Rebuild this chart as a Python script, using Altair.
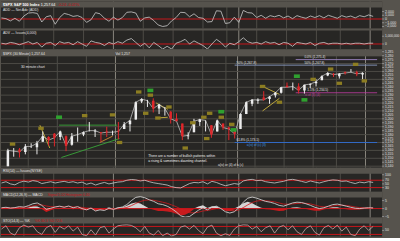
import json
import altair as alt
import pandas as pd
import numpy as np

# ---------------- price data: daily bars, trading-day index 0 = 1 Oct 2010 ----------------
opens = [1143,1144,1140,1159,1161,1158,1165,1164,1171,1177,
         1181,1177,1178,1167,1180,1180,1185,1184,1183,1184,
         1183,1185,1187,1193,1199,1222,1223,1223,1213,1213,
         1209,1200,1194,1178,1183,1196,1198,1192,1184,1194,
         1189,1183,1187,1206,1219,1223,1227,1225,1230,1233,
         1242,1241,1241,1236,1243,1245,1249,1255,1257,1254,
         1259,1259,1259,1256]
highs = [1150,1148,1162,1163,1163,1168,1169,1172,1184,1178,
         1182,1185,1179,1182,1189,1184,1196,1187,1183,1190,
         1185,1196,1196,1198,1222,1226,1224,1226,1219,1215,
         1210,1207,1194,1183,1200,1200,1198,1192,1199,1194,
         1190,1188,1207,1222,1225,1226,1235,1229,1234,1240,
         1246,1246,1245,1243,1245,1250,1255,1259,1258,1258,
         1260,1263,1261,1259]
lows = [1139,1131,1140,1152,1151,1155,1163,1155,1171,1166,
        1165,1173,1159,1166,1171,1178,1184,1177,1171,1177,
        1179,1174,1187,1184,1199,1220,1215,1208,1206,1204,
        1194,1197,1173,1174,1183,1191,1184,1176,1184,1186,
        1173,1175,1187,1206,1216,1219,1223,1219,1227,1232,
        1240,1236,1232,1232,1239,1241,1249,1254,1253,1251,
        1256,1259,1254,1250]
closes = [1146,1137,1160,1159,1158,1165,1165,1169,1178,1173,
          1176,1184,1166,1178,1180,1183,1185,1185,1182,1183,
          1183,1184,1193,1198,1221,1225,1223,1213,1218,1213,
          1200,1197,1178,1179,1197,1199,1198,1180,1198,1189,
          1187,1181,1206,1221,1224,1224,1224,1228,1233,1240,
          1240,1241,1236,1243,1244,1247,1254,1258,1256,1257,
          1258,1259,1257,1258]

# ---------------- indicators: sampled every 0.75 trading day starting at 2.25 ----------------
add_vals = [0.3,0.1,-0.5,0.2,-0.6,0.8,1.6,1.7,1.5,-0.8,
            0.6,0.9,-1.4,0.4,1.5,1.2,0.7,0.9,0.4,-0.9,
            -0.2,1.7,1.4,0.2,-0.6,0.5,-0.3,0.4,1.8,1.9,
            1.6,-0.6,0.3,0.5,-0.4,-1.6,-2.0,-1.8,-0.5,0.4,
            1.8,1.7,0.6,1.4,0.4,0.2,-0.8,-0.7,2.2,2.1,
            -1.2,-1.0,0.5,-0.9,2.3,1.7,1.6,0.4,1.0,0.2,
            0.9,0.6,1.0,0.3,0.8,0.1,0.9,0.5,0.2,0.8,
            0.4,0.9,0.3,1.0,0.6,0.2,0.9,0.5,0.8,0.3,
            0.9,0.6,1.1,0.7]
adv_vals = [0.1,0.0,0.2,0.1,-0.1,0.1,0.3,0.0,0.2,-0.4,
            0.1,0.2,-0.2,0.3,0.1,0.2,-0.1,0.3,0.0,-0.3,
            0.4,0.2,0.1,-0.2,0.2,0.0,0.3,0.1,0.5,0.7,
            0.2,-0.3,0.1,-0.5,0.2,-0.2,-0.65,-0.3,-0.65,0.1,
            0.3,0.6,0.0,0.4,0.1,-0.2,-0.65,0.0,0.6,0.2,
            -0.4,0.1,-0.1,0.3,0.8,0.3,0.1,0.2,0.0,0.3,
            0.1,0.2,-0.1,0.2,0.1,-0.3,0.2,0.1,0.0,0.2,
            -0.2,0.1,0.2,0.0,0.1,0.1,0.0,0.1,0.0,0.1,
            0.1,0.0,0.1,0.1]
rsi_vals = [55,62,50,45,58,65,60,68,64,52,
            57,62,55,60,64,58,62,55,60,48,
            55,44,52,58,50,55,60,62,70,74,
            72,66,70,62,56,52,48,44,35,30,
            28,40,52,58,56,62,50,64,58,48,
            40,46,52,48,66,72,75,68,70,62,
            58,55,60,64,72,75,70,64,58,66,
            60,55,62,68,72,70,64,66,58,52,
            60,56,62,58]
macd_vals = [0.5,0.8,0.3,0.6,1.2,0.9,1.8,3.0,3.5,2.0,
             -0.5,0.2,1.0,1.5,0.8,1.6,0.5,1.2,0.0,-0.8,
             0.3,-1.5,-0.8,-1.2,0.2,-0.5,0.4,1.0,2.5,5.0,
             7.0,7.5,6.8,5.5,4.5,3.0,2.5,1.5,0.0,-2.0,
             -4.5,-5.4,-5.0,-3.0,-1.0,0.5,-0.8,0.8,1.5,0.0,
             -2.0,-2.8,-2.0,0.5,4.0,6.5,7.2,6.5,5.5,4.5,
             4.0,3.2,2.0,1.5,2.5,3.5,4.0,3.8,3.0,2.0,
             0.8,0.0,0.5,1.5,2.5,2.8,2.2,1.5,0.8,0.2,
             0.0,0.3,0.5,0.4]
signal_vals = [0.4,0.5,0.5,0.5,0.7,0.8,1.1,1.6,2.2,2.3,
               1.6,1.2,1.1,1.2,1.1,1.2,1.0,1.0,0.7,0.3,
               0.3,-0.2,-0.4,-0.6,-0.4,-0.4,-0.2,0.1,0.7,1.8,
               3.2,4.4,5.2,5.4,5.2,4.6,4.0,3.3,2.3,1.2,
               -0.2,-1.6,-2.6,-2.7,-2.3,-1.5,-1.2,-0.6,0.0,0.0,
               -0.6,-1.2,-1.4,-0.9,0.6,2.3,3.8,4.7,5.0,4.9,
               4.6,4.2,3.5,2.8,2.7,2.9,3.2,3.4,3.3,2.9,
               2.2,1.4,1.1,1.2,1.6,2.0,2.1,1.9,1.5,1.0,
               0.6,0.5,0.5,0.5]
stoch_vals = [60,85,30,15,70,90,75,85,40,20,
              70,88,35,80,60,85,45,75,20,10,
              55,15,70,80,30,60,85,90,92,88,
              70,40,80,30,15,50,10,30,8,20,
              75,85,60,88,50,25,75,90,30,10,
              25,12,60,85,92,90,60,80,40,70,
              85,30,75,88,55,85,40,20,65,85,
              35,15,70,88,60,90,45,75,20,10,
              60,85,50,80]

# ---------------- calendar ticks ----------------
week_pos = [6, 11, 16, 21, 26, 31, 36, 40, 42, 45, 50, 55, 59, 64]
week_lab = ["11", "18", "25", "Nov", "8", "15", "22", "29", "Dec", "6", "13", "20", "27", "Jan"]
month_pos = [21, 42, 64]

# ---------------- right-hand scale labels ----------------
add_ticks = [2, 1, 0, -1, -2]
adv_ticks = [1, 0]
price_ticks = list(range(1140, 1290, 5))
rsi_ticks = [100, 70, 50, 30]
macd_ticks = [5, 0, -5]
sto_ticks = [50]

# ---------------- annotations (trading-day index, price) ----------------
olive_x = [3.3, 8.2, 15.7, 20.5, 21.7, 25.0, 26.2, 27.0, 28.3, 30.2, 33.0, 34.3, 36.2,
           36.7, 37.2, 39.2, 41.0, 46.3, 49.2, 55.0, 58.0, 59.5, 62.3, 63.8]
olive_y = [1168, 1188, 1204, 1205, 1170, 1234, 1207, 1230, 1201, 1215, 1163, 1195, 1202,
           1175, 1207, 1202, 1193, 1241, 1221, 1250, 1263, 1245, 1269, 1248]
green_x = [11.3, 27.0, 39.2, 41.3, 52.2, 53.5]
green_y = [1202, 1236, 1209, 1186, 1254, 1224]

seg_x1 = [11.3, 11.7, 8.0, 28.0, 28.0, 46.3, 46.3, 18.3, 41.5, 41.5, 52.0, 52.0]
seg_x2 = [21.3, 21.7, 9.7, 30.0, 30.0, 49.2, 49.2, 20.5, 66.0, 66.0, 66.0, 66.0]
seg_y1 = [1192, 1151, 1192, 1220, 1201, 1241, 1210, 1170, 1170, 1268, 1275, 1233]
seg_y2 = [1192, 1175, 1163, 1212, 1202, 1231, 1226, 1178, 1170, 1268, 1275, 1233]
seg_col = ["#39a639", "#39a639", "#c9b23c", "#c9b23c", "#c9b23c", "#c9b23c", "#c9b23c",
           "#d08a34", "#2f6fd6", "#8a9cc4", "#9b84c4", "#b23a97"]

note_x = [53.5, 41.8, 53.5, 41.8, 43.6, 54.0, 53.6]
note_y = [1278.5, 1271, 1271, 1173, 1166.5, 1236, 1230]
note_t = ["0.0% (1,275.4)", "50% (1,267.8)", "50% (1,267.8)", "61.8% (1,173.1)",
          "a(iv) of (c) (3)", "1.1% (1,234.5)", "iii of (3) (4)"]
note_c = ["#e0e0e0", "#e0e0e0", "#e0e0e0", "#e0e0e0", "#3f9be3", "#e0e0e0", "#c0409f"]

# ---------------- styling ----------------
W = 383
FONT = "Liberation Sans"
BG = "#56534d"
PANEL = "#272624"
VGRID = "#4e4c47"
MGRID = "#8a877f"
HGRID = "#4d4b46"
LINE = "#cdcdcd"
RED = "#c8161b"
TXT = "#e2e2e2"
UP = "#ececec"
DOWN = "#e0262a"

xs = alt.Scale(domain=[2.17, 66.0], nice=False, zero=False)
one = pd.DataFrame({"k": [0]})


def xenc(f, axis=None):
    return alt.X(f + ":Q", scale=xs, axis=axis, title=None)


def vgrid():
    wk = [p for p in week_pos if p not in month_pos]
    a = alt.Chart(pd.DataFrame({"x": wk})).mark_rule(color=VGRID, strokeWidth=1).encode(x=xenc("x"))
    b = alt.Chart(pd.DataFrame({"x": month_pos})).mark_rule(color=MGRID, strokeWidth=1).encode(x=xenc("x"))
    return [a, b]


def band(h):
    return alt.Chart(one).mark_rect(color=BG).encode(
        x=alt.value(0), x2=alt.value(W), y=alt.value(0), y2=alt.value(h))


def label(text, x, y, color=TXT, size=4, weight="normal"):
    return alt.Chart(pd.DataFrame({"t": [text]})).mark_text(
        align="left", baseline="top", font=FONT, fontSize=size, color=color, fontWeight=weight
    ).encode(x=alt.value(x), y=alt.value(y), text="t:N")


def hrules(vals, color, ys, width=1):
    return alt.Chart(pd.DataFrame({"y": vals})).mark_rule(color=color, strokeWidth=width).encode(
        y=alt.Y("y:Q", scale=ys, axis=None))


def scale_labels(vals, ys, expr, size=3.8):
    """Right-hand price / indicator scale: tick + label drawn outside the plot."""
    d = pd.DataFrame({"v": vals})
    ticks = alt.Chart(d).mark_rule(color="#9a9a9a", strokeWidth=0.8).encode(
        y=alt.Y("v:Q", scale=ys, axis=None), x=alt.value(W), x2=alt.value(W + 2))
    labs = alt.Chart(d).transform_calculate(lab=expr).mark_text(
        align="left", baseline="middle", font=FONT, fontSize=size, color=TXT
    ).encode(y=alt.Y("v:Q", scale=ys, axis=None), x=alt.value(W + 3), text="lab:N")
    return [ticks, labs]


n = len(add_vals)
ind = pd.DataFrame({
    "x": 2.25 + 0.75 * np.arange(n),
    "add": add_vals, "adv": adv_vals, "rsi": rsi_vals,
    "macd": macd_vals, "sig": signal_vals, "sto": stoch_vals,
})
ind["hp"] = np.maximum(ind["macd"] - ind["sig"], 0)
ind["hn"] = np.minimum(ind["macd"] - ind["sig"], 0)

# ---------------- panel 1: ADD ----------------
ys1 = alt.Scale(domain=[-2.53, 4.67], nice=False, zero=False)
p1 = alt.layer(
    *vgrid(),
    band(6),
    hrules([0], RED, ys1),
    alt.Chart(ind).mark_line(color=LINE, strokeWidth=0.8, clip=True).encode(
        x=xenc("x"), y=alt.Y("add:Q", scale=ys1, axis=None)),
    *scale_labels(add_ticks, ys1, "format(datum.v*1000, ',')", 3.6),
    label("$SPX S&P 500 Index", 2, 1, color="#ffffff", size=3.8, weight="bold"),
    label("1,257.64", 40, 1, color="#ffffff", size=3.8),
    label("-0.24  -0.02%", 57, 1, color=RED, size=3.8),
    label("ADD — Net Adv (ADD)", 2, 6.5, size=3.5),
).properties(width=W, height=27)

# ---------------- panel 2: ADV ----------------
ys2 = alt.Scale(domain=[-0.69, 2.0], nice=False, zero=False)
p2 = alt.layer(
    *vgrid(),
    band(2),
    hrules([0], RED, ys2),
    alt.Chart(ind).mark_line(color=LINE, strokeWidth=0.8, clip=True).encode(
        x=xenc("x"), y=alt.Y("adv:Q", scale=ys2, axis=None)),
    *scale_labels(adv_ticks, ys2, "format(datum.v*1000000, ',')", 3.2),
    label("ADV — Issues(4,000)", 2, 2.5, size=3.5),
).properties(width=W, height=21)

# ---------------- main price panel ----------------
ysm = alt.Scale(domain=[1138, 1288], nice=False, zero=False)
px = pd.DataFrame({"x": np.arange(len(closes)) + 0.5, "o": opens, "h": highs, "l": lows, "c": closes})
px["col"] = np.where(px["c"] >= px["o"], UP, DOWN)
px = px[px["x"] > 2.17]
segs = pd.DataFrame({"x1": seg_x1, "x2": seg_x2, "y1": seg_y1, "y2": seg_y2, "col": seg_col})
olive = pd.DataFrame({"x": olive_x, "y": olive_y})
green = pd.DataFrame({"x": green_x, "y": green_y})
notes = pd.DataFrame({"x": note_x, "y": note_y, "t": note_t, "col": note_c})
box = "M-1,-0.6L1,-0.6L1,0.6L-1,0.6Z"

main = alt.layer(
    *vgrid(),
    hrules(list(range(1140, 1290, 10)), HGRID, ysm),
    band(7),
    alt.Chart(segs).mark_rule(strokeWidth=0.9, clip=True).encode(
        x=xenc("x1"), x2="x2", y=alt.Y("y1:Q", scale=ysm, axis=None), y2="y2",
        color=alt.Color("col:N", scale=None)),
    alt.Chart(px).mark_line(color="#bdbdbd", strokeWidth=0.8, clip=True).encode(
        x=xenc("x"), y=alt.Y("c:Q", scale=ysm, axis=None)),
    alt.Chart(px).mark_rule(strokeWidth=1, clip=True).encode(
        x=xenc("x"), y=alt.Y("l:Q", scale=ysm, axis=None),
        y2="h", color=alt.Color("col:N", scale=None)),
    alt.Chart(px).mark_bar(size=2.5, clip=True).encode(
        x=xenc("x"), y=alt.Y("o:Q", scale=ysm, axis=None), y2="c",
        color=alt.Color("col:N", scale=None)),
    alt.Chart(olive).mark_point(shape=box, filled=True, size=30, color="#8c7d22", opacity=1).encode(
        x=xenc("x"), y=alt.Y("y:Q", scale=ysm, axis=None)),
    alt.Chart(green).mark_point(shape=box, filled=True, size=36, color="#2fa02f", opacity=1).encode(
        x=xenc("x"), y=alt.Y("y:Q", scale=ysm, axis=None)),
    alt.Chart(notes).mark_text(align="left", baseline="middle", font=FONT, fontSize=3.2).encode(
        x=xenc("x"), y=alt.Y("y:Q", scale=ysm, axis=None), text="t:N",
        color=alt.Color("col:N", scale=None)),
    *scale_labels(price_ticks, ysm, "format(datum.v, ',')", 3.3),
    label("$SPX (30 Minute) 1,257.64", 2, 3, size=3.5),
    label("Vol 1,257", 115, 3, size=3.5),
    label("30 minute chart", 20, 16, size=3.5),
    label("There are a number of bullish patterns within", 148, 105, color="#f0f0f0", size=3.4),
    label("a rising & sometimes daunting channel.", 148, 110.5, color="#f0f0f0", size=3.4),
    label("a(iv) or (4) of a (c)", 218, 114, color="#e0e0e0", size=3.2),
).properties(width=W, height=119)

# ---------------- RSI ----------------
ysr = alt.Scale(domain=[8, 138], nice=False, zero=False)
rsi = alt.layer(
    *vgrid(),
    band(6),
    hrules([70, 30], RED, ysr),
    alt.Chart(ind).mark_line(color=LINE, strokeWidth=0.8, clip=True).encode(
        x=xenc("x"), y=alt.Y("rsi:Q", scale=ysr, axis=None)),
    *scale_labels(rsi_ticks, ysr, "format(datum.v, 'd')", 3.5),
    label("RSI(14) — Issues(NYSE)", 2, 1.5, size=3.5),
).properties(width=W, height=24)

# ---------------- MACD ----------------
ysd = alt.Scale(domain=[-5.6, 10.6], nice=False, zero=False)
macd = alt.layer(
    *vgrid(),
    band(6),
    alt.Chart(ind).mark_area(color="#e8e8e8", opacity=0.9, clip=True).encode(
        x=xenc("x"), y=alt.Y("hp:Q", scale=ysd, axis=None), y2=alt.Y2(datum=0)),
    alt.Chart(ind).mark_area(color="#d01a1e", opacity=0.95, clip=True).encode(
        x=xenc("x"), y=alt.Y("hn:Q", scale=ysd, axis=None), y2=alt.Y2(datum=0)),
    hrules([0], RED, ysd),
    alt.Chart(ind).mark_line(color="#d01a1e", strokeWidth=0.8, clip=True).encode(
        x=xenc("x"), y=alt.Y("sig:Q", scale=ysd, axis=None)),
    alt.Chart(ind).mark_line(color=LINE, strokeWidth=0.9, clip=True).encode(
        x=xenc("x"), y=alt.Y("macd:Q", scale=ysd, axis=None)),
    *scale_labels(macd_ticks, ysd, "format(datum.v, 'd')", 3.5),
    label("MACD(12,26,9) — MACD", 2, 1.5, size=3.5),
    label("Signal 5.02  Histogram 0.40", 47, 1.5, color=RED, size=3.5),
).properties(width=W, height=26)

# ---------------- Slow stochastic ----------------
yss = alt.Scale(domain=[5, 147], nice=False, zero=False)
xaxis = alt.Axis(values=week_pos, orient="bottom", grid=False, domain=False, ticks=False,
                 labelFontSize=4.5, labelColor=TXT, labelFont=FONT, labelPadding=1,
                 labelFlush=False, labelOverlap=False,
                 labelExpr=f"{json.dumps(week_lab)}[indexof({json.dumps(week_pos)}, datum.value)]")
sto = alt.layer(
    *vgrid(),
    band(6),
    hrules([80, 20], RED, yss),
    alt.Chart(ind).mark_line(color="#c9a7a7", strokeWidth=0.8, clip=True).encode(
        x=xenc("x", axis=xaxis), y=alt.Y("sto:Q", scale=yss, axis=None)),
    *scale_labels(sto_ticks, yss, "format(datum.v, 'd')", 3.5),
    label("STO(14,3) — %K", 2, 1.5, size=3.5),
    label("%K 80.3  %D 72.6", 34, 1.5, color=RED, size=3.5),
).properties(width=W, height=19)

chart = alt.vconcat(p1, p2, main, rsi, macd, sto, spacing=0).properties(
    bounds="flush"
).configure(
    background=BG, padding=0
).configure_view(
    fill=PANEL, stroke=None
)

chart.save("out.html", embed_options={"renderer": "svg", "actions": False})
